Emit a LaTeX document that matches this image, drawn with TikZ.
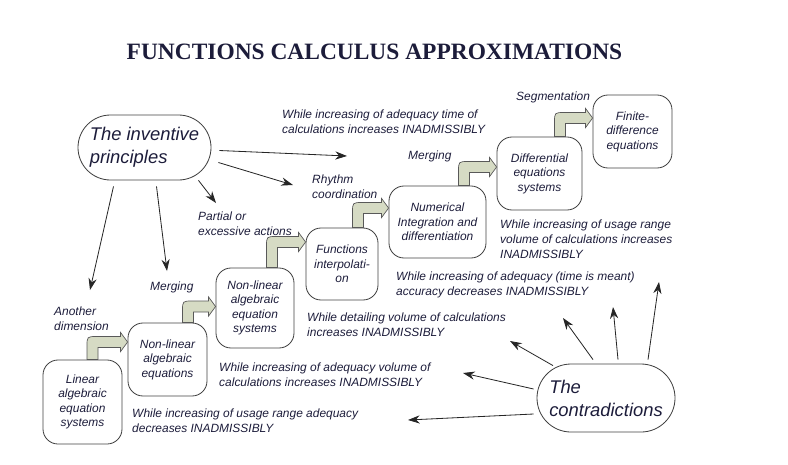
\documentclass[tikz,border=0pt]{standalone}
\usepackage{fontspec}
\setmainfont{Liberation Sans}
\newfontfamily\titlefont{Liberation Serif}
\usepackage{tikz}
\usetikzlibrary{arrows.meta, calc}
\definecolor{ink}{RGB}{28,28,58}
\definecolor{stepfill}{RGB}{214,219,196}

\begin{document}
\begin{tikzpicture}[
  x=0.03cm, y=-0.03cm,
  stage/.style={rectangle, draw=black!75, line width=0.7pt, rounded corners=0.45cm, align=center, text=ink, font=\fontsize{10.2}{12.4}\selectfont\itshape, inner sep=1pt},
  pole/.style={rectangle, draw=black!75, line width=0.7pt, align=left, text=ink, font=\fontsize{15.7}{19.5}\selectfont\itshape},
  note/.style={anchor=north west, inner sep=0pt, align=left, text=ink, font=\fontsize{10.2}{12.6}\selectfont\itshape},
  arr/.style={-{Stealth[length=10pt, width=7pt]}, draw=black!85, line width=0.7pt},
  bent/.style={fill=stepfill, draw=black!65, line width=0.6pt},
]
\useasboundingbox (0,0) rectangle (788,464);

%% Title
\node[text=ink, font=\titlefont\fontsize{20}{24}\selectfont\bfseries] (title) at (374.5,52) {FUNCTIONS CALCULUS APPROXIMATIONS};

%% Poles
\node[pole, minimum width=3.99cm, minimum height=1.95cm, rounded corners=0.975cm] (inv) at (144.5,147.5) {The inventive\\principles};
\node[pole, minimum width=4.14cm, minimum height=2.04cm, rounded corners=1.02cm] (con) at (606,398) {The\\contradictions};

%% Stages (staircase)
\node[stage, minimum width=2.37cm, minimum height=2.52cm] (lin)  at (82.5,402)   {Linear\\algebraic\\equation\\systems};
\node[stage, minimum width=2.37cm, minimum height=2.19cm] (nla)  at (167.5,359.5) {Non-linear\\algebraic\\equations};
\node[stage, minimum width=2.34cm, minimum height=2.4cm]  (nlas) at (255,308)    {Non-linear\\algebraic\\equation\\systems};
\node[stage, minimum width=2.16cm, minimum height=2.16cm] (fint) at (342,264)    {Functions\\interpolati-\\on};
\node[stage, minimum width=2.91cm, minimum height=2.16cm] (numi) at (437.5,222)  {Numerical\\Integration and\\differentiation};
\node[stage, minimum width=2.55cm, minimum height=2.19cm] (deq)  at (539.5,173.5) {Differential\\equations\\systems};
\node[stage, minimum width=2.37cm, minimum height=2.19cm] (fde)  at (632.5,131.5) {Finite-\\difference\\equations};

%% Principles
\node[note] (ldim)  at (54,307)   {Another\\dimension};
\node[note] (lmrg1) at (150,282)  {Merging};
\node[note] (lpart) at (198,212)  {Partial or\\excessive actions};
\node[note] (lrhy)  at (312,175)  {Rhythm\\coordination};
\node[note] (lmrg2) at (408,151)  {Merging};
\node[note] (lseg)  at (516,92)   {Segmentation};

%% Contradictions
\node[note] (ktime) at (282,110)  {While increasing of adequacy time of\\calculations increases INADMISSIBLY};
\node[note] (krng1) at (500,220)  {While increasing of usage range\\volume of calculations increases\\INADMISSIBLY};
\node[note] (kacc)  at (396,272)  {While increasing of adequacy (time is meant)\\accuracy decreases INADMISSIBLY};
\node[note] (kdet)  at (307,313)  {While detailing volume of calculations\\increases INADMISSIBLY};
\node[note] (kvol)  at (219,363)  {While increasing of adequacy volume of\\calculations increases INADMISSIBLY};
\node[note] (krng2) at (132,409)  {While increasing of usage range adequacy\\decreases INADMISSIBLY};

%% Step arrows between stages
\foreach \f/\t/\dx/\dy in {lin/nla/10/-17.5, nla/nlas/20.5/-1.5, nlas/fint/17/-22, fint/numi/16/-14, numi/deq/26.5/-6.5, deq/fde/20.5/-13.5} {
  \coordinate (s) at ($(\f.north)+(\dx,0)$);
  \coordinate (e) at ($(\t.west)+(0,\dy)$);
  \coordinate (k) at (s |- e);
  \filldraw[bent] ($(s)+(-5.5,0)$) -- ($(k)+(-5.5,4.5)$) .. controls ($(k)+(-5.5,-5.5)$) .. ($(k)+(4.5,-5.5)$)
    -- ($(e)+(-7,-5.5)$) -- ($(e)+(-7,-9.5)$) -- (e) -- ($(e)+(-7,9.5)$) -- ($(e)+(-7,5.5)$)
    -- ($(k)+(5.5,5.5)$) -- ($(s)+(5.5,0)$) -- cycle;
}

%% Arrows from the inventive principles
\coordinate (t1) at (347,156);
\coordinate (t2) at (293,185);
\coordinate (t3) at (216,203);
\coordinate (t4) at (167,271);
\coordinate (t5) at (90,290);
\draw[arr] ([shift={(8,3)}]inv.east) -- (t1);
\draw[arr] ([shift={(7,15)}]inv.east) -- (t2);
\foreach \t/\dx/\dy in {t3/54/0, t4/12/6, t5/-31/6} {
  \draw[arr] ([shift={(\dx,\dy)}]inv.south) -- (\t);
}

%% Arrows from the contradictions
\coordinate (c1) at (408,420);
\coordinate (c2) at (463,373);
\coordinate (c3) at (510,341);
\coordinate (c4) at (563,318);
\coordinate (c5) at (613,307);
\coordinate (c6) at (659,282);
\foreach \t/\dy in {c1/16, c2/-9} {
  \draw[arr] ([shift={(-3,\dy)}]con.west) -- (\t);
}
\foreach \t/\dx/\dy in {c3/-53/2, c4/-13/-4, c5/12/-4, c6/42/-4} {
  \draw[arr] ([shift={(\dx,\dy)}]con.north) -- (\t);
}
\end{tikzpicture}
\end{document}
